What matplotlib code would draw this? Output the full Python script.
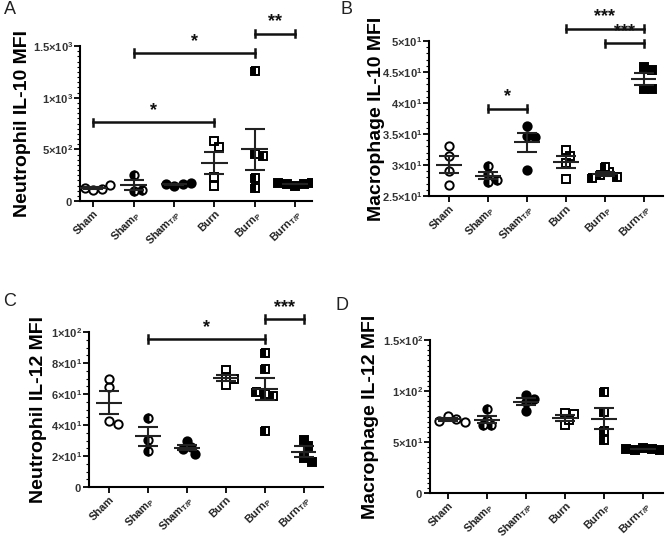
import numpy as np
import matplotlib
matplotlib.use('Agg')
import matplotlib.pyplot as plt
from matplotlib.ticker import FixedLocator, AutoMinorLocator

plt.rcParams['font.family'] = ['Liberation Sans', 'DejaVu Sans']
plt.rcParams['mathtext.fontset'] = 'custom'
plt.rcParams['mathtext.rm'] = 'Liberation Sans'
plt.rcParams['mathtext.bf'] = 'Liberation Sans:bold'

groups = ['Sham', 'Sham$_{\\mathregular{P}}$', 'Sham$_{\\mathregular{T/P}}$',
          'Burn', 'Burn$_{\\mathregular{P}}$', 'Burn$_{\\mathregular{T/P}}$']

# panel A: neutrophil IL-10
a_vals = [[110, 120, 130, 155],
          [250, 95, 110],
          [150, 160, 165, 170],
          [580, 520, 235, 145],
          [1260, 452, 436, 224, 122],
          [150, 160, 165, 170, 175]]
a_ticks = [0, 500, 1000, 1500]
a_labels = ['0', '5×10^{2}', '1×10^{3}', '1.5×10^{3}']
a_sig = [(0, 3, 760, '*'), (1, 4, 1430, '*'), (4, 5, 1620, '**')]

# panel B: macrophage IL-10
b_vals = [[33.0, 31.4, 29.0, 26.7],
          [29.8, 28.5, 27.3, 27.6],
          [36.3, 34.7, 34.5, 29.2],
          [32.4, 31.5, 30.3, 27.8],
          [29.7, 28.8, 28.4, 28.1, 27.9],
          [45.8, 45.3, 42.3, 42.2]]
b_ticks = [25, 30, 35, 40, 45, 50]
b_labels = ['2.5×10^{1}', '3×10^{1}', '3.5×10^{1}', '4×10^{1}', '4.5×10^{1}', '5×10^{1}']
b_sig = [(1, 2, 39.1, '*'), (4, 5, 49.6, '***'), (3, 5, 52.0, '***')]

# panel C: neutrophil IL-12
c_vals = [[69.5, 64.5, 42.5, 40.5],
          [44.5, 30.5, 23.4],
          [29.5, 25.5, 24.5, 21.5],
          [75.5, 71, 69.5, 66],
          [86.5, 76, 60, 59, 61, 36.3],
          [30.1, 26.7, 18.7, 15.9]]
c_ticks = [0, 20, 40, 60, 80, 100]
c_labels = ['0', '2×10^{1}', '4×10^{1}', '6×10^{1}', '8×10^{1}', '1×10^{2}']
c_sig = [(1, 4, 95.5, '*'), (4, 5, 108.4, '***')]

# panel D: macrophage IL-12
d_vals = [[75.5, 72.5, 71, 70],
          [82, 72, 67, 67],
          [96.5, 92, 89, 80],
          [78, 77, 72, 67],
          [99, 79, 60.6, 52.3],
          [44.5, 43.5, 42.5, 42, 43]]
d_ticks = [0, 50, 100, 150]
d_labels = ['0', '5×10^{1}', '1×10^{2}', '1.5×10^{2}']
d_sig = []

markers = [('o', 'none'), ('o', 'left'), ('o', 'full'),
           ('s', 'none'), ('s', 'left'), ('s', 'full')]


def swarm(ax, x0, ys, size_px):
    pts = ax.transData.transform([(x0, y) for y in ys])
    placed = []
    for px, py in pts:
        for k in [0, 1, -1, 2, -2, 3, -3, 4, -4]:
            cx = px + k * size_px * 0.5
            if all((cx - qx) ** 2 + (py - qy) ** 2 >= (size_px * 0.75) ** 2 for qx, qy in placed):
                break
        placed.append((cx, py))
    back = ax.transData.inverted().transform(placed)
    return back[:, 0], back[:, 1]


def tick_text(s):
    if s == '0':
        return '$\\mathbf{0}$'
    return '$\\mathbf{' + s.replace('×', '{\\times}') + '}$'


def draw_panel(fig, rect, vals, ticks, labels, ylim, xlim, ylabel, label_x, sig, nminor):
    ax = fig.add_axes(rect)
    ax.set_xlim(*xlim)
    ax.set_ylim(*ylim)
    for s in ['top', 'right']:
        ax.spines[s].set_visible(False)
    for s in ['left', 'bottom']:
        ax.spines[s].set_linewidth(1.5)
    ax.yaxis.set_major_locator(FixedLocator(ticks))
    ax.set_yticklabels([tick_text(t) for t in labels], fontsize=8, color='#333333')
    ax.yaxis.set_minor_locator(AutoMinorLocator(nminor))
    ax.tick_params(axis='y', which='major', length=4, width=1.3, pad=1)
    ax.tick_params(axis='y', which='minor', length=2, width=0.8)
    ax.set_xticks(range(len(groups)))
    ax.set_xticklabels(groups, rotation=45, ha='right', rotation_mode='anchor',
                       fontsize=7.8, fontweight='bold', color='#222222')
    ax.tick_params(axis='x', length=4, width=1.3, pad=1)
    ax.set_ylabel(ylabel, fontsize=14, fontweight='bold')
    ax.yaxis.set_label_coords(label_x, 0.5)

    for i, ys in enumerate(vals):
        ys = np.array(ys, dtype=float)
        m, fs = markers[i]
        xs, yy = swarm(ax, i, ys, 8.5)
        ax.plot(xs, yy, linestyle='none', marker=m, fillstyle=fs, markersize=6 if m == 'o' else 5.5,
                markeredgecolor='black', markerfacecolor='black', markerfacecoloralt='white',
                markeredgewidth=1.4, zorder=3)
        mean = ys.mean()
        sem = ys.std(ddof=1) / np.sqrt(len(ys))
        ax.hlines(mean, i - 0.33, i + 0.33, color='#222222', linewidth=1.5, zorder=4)
        ax.errorbar(i, mean, yerr=sem, color='#222222', capsize=7.5, elinewidth=1.5,
                    capthick=1.5, zorder=4)

    span = ylim[1] - ylim[0]
    for g1, g2, y, stars in sig:
        ax.plot([g1, g2], [y, y], color='#111111', linewidth=1.8, clip_on=False)
        for g in (g1, g2):
            ax.plot([g, g], [y - span * 0.025, y + span * 0.025], color='#111111',
                    linewidth=1.8, clip_on=False)
        ax.text((g1 + g2) / 2, y + span * 0.02, stars, ha='center', va='bottom',
                fontsize=13, fontweight='bold', color='#111111', clip_on=False)
    return ax


fig = plt.figure(figsize=(6.66, 5.4), dpi=100)

draw_panel(fig, [80 / 666, 1 - 201 / 540, 232 / 666, 155 / 540], a_vals, a_ticks, a_labels,
           (0, 1500), (-0.33, 5.42), 'Neutrophil IL-10 MFI', -0.21, a_sig, 10)
draw_panel(fig, [429 / 666, 1 - 196 / 540, 234 / 666, 155 / 540], b_vals, b_ticks, b_labels,
           (25, 50), (-0.52, 5.5), 'Macrophage IL-10 MFI', -0.19, b_sig, 5)
draw_panel(fig, [89 / 666, 1 - 487 / 540, 234 / 666, 155 / 540], c_vals, c_ticks, c_labels,
           (0, 100), (-0.52, 5.5), 'Neutrophil IL-12 MFI', -0.18, c_sig, 4)
draw_panel(fig, [430 / 666, 1 - 493 / 540, 233 / 666, 153 / 540], d_vals, d_ticks, d_labels,
           (0, 150), (-0.45, 5.5), 'Macrophage IL-12 MFI', -0.22, d_sig, 10)

for letter, x, y in [('A', 4, 10), ('B', 340, 10), ('C', 3, 302), ('D', 336, 306)]:
    fig.text(x / 666, 1 - y / 540, letter, fontsize=13, ha='left', va='center', color='#222222')

fig.savefig('out.png', dpi=100)
